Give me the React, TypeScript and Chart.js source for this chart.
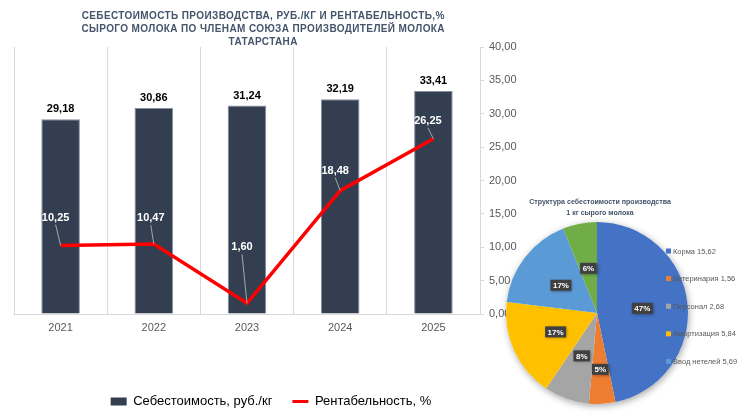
import React, { useEffect, useRef } from 'react';
import { Chart, registerables } from 'chart.js';

Chart.register(...registerables);

// Себестоимость и рентабельность сырого молока по годам
const years = ['2021', '2022', '2023', '2024', '2025'];
const costPerKg = [29.18, 30.86, 31.24, 32.19, 33.41];
const profitability = [10.25, 10.47, 1.6, 18.48, 26.25];

// Структура себестоимости 1 кг молока (2025)
const costItems = ['Корма', 'Ветеринария', 'Персонал', 'Амортизация', 'Ввод нетелей', 'Прочие'];
const costItemValues = [15.62, 1.56, 2.68, 5.84, 5.69, 2.02];
const costItemColors = ['#4472c4', '#ed7d31', '#a5a5a5', '#ffc000', '#5b9bd5', '#70ad47'];

const titleLines = [
  'СЕБЕСТОИМОСТЬ ПРОИЗВОДСТВА, РУБ./КГ И РЕНТАБЕЛЬНОСТЬ,%',
  'СЫРОГО МОЛОКА ПО ЧЛЕНАМ СОЮЗА ПРОИЗВОДИТЕЛЕЙ МОЛОКА',
  'ТАТАРСТАНА',
];
const pieTitleLines = ['Структура себестоимости производства', '1 кг сырого молока'];

const FONT = '"Liberation Sans", Arial, sans-serif';
const fmt = (v: number) => v.toFixed(2).replace('.', ',');

// where each profitability label sits relative to its point (dragged labels with leader lines)
const lineLabelOffsets: [number, number][] = [
  [-5, -28],
  [-3, -26],
  [-5, -56],
  [-5, -20],
  [-5.5, -18],
];

const mainTitle = {
  id: 'mainTitle',
  afterDraw(chart: any) {
    const ctx = chart.ctx as CanvasRenderingContext2D & { letterSpacing?: string };
    ctx.save();
    ctx.font = `bold 10px ${FONT}`;
    ctx.fillStyle = '#44546a';
    ctx.textAlign = 'center';
    ctx.textBaseline = 'middle';
    ctx.letterSpacing = '0px';
    const base = ctx.measureText(titleLines[0]).width;
    const spacing = Math.max(0, (363 - base) / titleLines[0].length);
    ctx.letterSpacing = `${spacing}px`;
    titleLines.forEach((line, i) => {
      ctx.fillText(line, 263 + spacing / 2, 16 + i * 13.3);
    });
    ctx.restore();
  },
};

const mainLabels = {
  id: 'mainLabels',
  afterDatasetsDraw(chart: any) {
    const ctx = chart.ctx as CanvasRenderingContext2D;
    const barMeta = chart.getDatasetMeta(0);
    const lineMeta = chart.getDatasetMeta(1);
    ctx.save();
    ctx.textAlign = 'center';
    ctx.textBaseline = 'middle';
    ctx.font = `bold 11px ${FONT}`;
    ctx.fillStyle = '#000000';
    barMeta.data.forEach((bar: any, i: number) => {
      ctx.fillText(fmt(costPerKg[i]), bar.x, bar.y - 10);
    });
    lineMeta.data.forEach((pt: any, i: number) => {
      const [dx, dy] = lineLabelOffsets[i];
      const lx = pt.x + dx;
      const ly = pt.y + dy;
      ctx.strokeStyle = '#a6a6a6';
      ctx.lineWidth = 1;
      ctx.beginPath();
      ctx.moveTo(lx, ly + 7);
      ctx.lineTo(pt.x, pt.y);
      ctx.stroke();
      ctx.fillStyle = '#ffffff';
      ctx.fillText(fmt(profitability[i]), lx, ly);
    });
    ctx.restore();
  },
};

const pieShadow = {
  id: 'pieShadow',
  beforeDatasetsDraw(chart: any) {
    const arc = chart.getDatasetMeta(0).data[0];
    if (!arc) return;
    const ctx = chart.ctx as CanvasRenderingContext2D;
    ctx.save();
    ctx.shadowColor = 'rgba(0,0,0,0.35)';
    ctx.shadowBlur = 7;
    ctx.shadowOffsetX = 1;
    ctx.shadowOffsetY = 2;
    ctx.fillStyle = '#ffffff';
    ctx.beginPath();
    ctx.arc(arc.x, arc.y, arc.outerRadius, 0, Math.PI * 2);
    ctx.fill();
    ctx.restore();
  },
};

const pieDecor = {
  id: 'pieDecor',
  afterDatasetsDraw(chart: any) {
    const ctx = chart.ctx as CanvasRenderingContext2D;
    const meta = chart.getDatasetMeta(0);
    const total = costItemValues.reduce((a, b) => a + b, 0);
    ctx.save();
    ctx.font = `bold 8px ${FONT}`;
    ctx.textAlign = 'center';
    ctx.textBaseline = 'middle';
    meta.data.forEach((arc: any, i: number) => {
      const share = costItemValues[i] / total;
      const mid = (arc.startAngle + arc.endAngle) / 2;
      const r = arc.outerRadius * (share < 0.055 ? 0.62 : 0.5);
      const x = arc.x + Math.cos(mid) * r;
      const y = arc.y + Math.sin(mid) * r;
      const text = `${Math.round(share * 100)}%`;
      const w = ctx.measureText(text).width + 5;
      const h = 11;
      ctx.save();
      ctx.shadowColor = 'rgba(0,0,0,0.4)';
      ctx.shadowBlur = 3;
      ctx.shadowOffsetX = 1;
      ctx.shadowOffsetY = 1;
      ctx.fillStyle = '#404040';
      ctx.fillRect(x - w / 2, y - h / 2, w, h);
      ctx.restore();
      ctx.fillStyle = '#ffffff';
      ctx.fillText(text, x, y + 0.5);
    });
    ctx.restore();
  },
  afterDraw(chart: any) {
    const ctx = chart.ctx as CanvasRenderingContext2D;
    ctx.save();
    ctx.textAlign = 'center';
    ctx.textBaseline = 'middle';
    ctx.font = `bold 8px ${FONT}`;
    const tw = ctx.measureText(pieTitleLines[0]).width;
    const size = (8 * 142) / tw;
    ctx.font = `bold ${size}px ${FONT}`;
    ctx.fillStyle = '#44546a';
    pieTitleLines.forEach((line, i) => ctx.fillText(line, 110, 12 + i * 11.5));

    // legend lists the five main cost items, drawn over the pie
    ctx.textAlign = 'left';
    ctx.font = `7.5px ${FONT}`;
    for (let i = 0; i < 5; i++) {
      const yc = 61 + i * 27.6;
      ctx.fillStyle = costItemColors[i];
      ctx.fillRect(176, yc - 2.5, 5, 5);
      ctx.fillStyle = '#595959';
      ctx.fillText(`${costItems[i]} ${fmt(costItemValues[i])}`, 183, yc + 0.5);
    }
    ctx.restore();
  },
};

export default function App() {
  const mainRef = useRef<HTMLCanvasElement>(null);
  const pieRef = useRef<HTMLCanvasElement>(null);

  useEffect(() => {
    if (!mainRef.current || !pieRef.current) return;

    const main = new Chart(mainRef.current, {
      type: 'bar',
      data: {
        labels: years,
        datasets: [
          {
            type: 'bar',
            label: 'Себестоимость, руб./кг',
            data: costPerKg,
            backgroundColor: '#333f50',
            borderColor: '#8490a2',
            borderWidth: 1,
            categoryPercentage: 1,
            barPercentage: 0.414,
            order: 1,
          },
          {
            type: 'line',
            label: 'Рентабельность, %',
            data: profitability,
            borderColor: '#ff0000',
            backgroundColor: '#ff0000',
            borderWidth: 3.5,
            pointRadius: 0,
            tension: 0,
            order: 0,
          },
        ] as any,
      },
      options: {
        responsive: false,
        animation: false,
        layout: { padding: { top: 47, left: 14, right: 0, bottom: -2 } },
        scales: {
          x: {
            grid: { color: '#d9d9d9', offset: true, drawTicks: false },
            border: { color: '#d9d9d9' },
            ticks: { color: '#595959', font: { size: 11, family: FONT }, padding: 7 },
            afterFit: (s: any) => {
              s.height = 61;
            },
          },
          y: {
            position: 'right',
            min: 0,
            max: 40,
            grid: { drawOnChartArea: false, tickLength: 4, color: '#d9d9d9' },
            border: { color: '#d9d9d9' },
            ticks: {
              stepSize: 5,
              color: '#595959',
              font: { size: 11, family: FONT },
              padding: 5,
              callback: (v: any) => fmt(Number(v)),
            },
            afterFit: (s: any) => {
              s.width = 48;
            },
          },
        },
        plugins: {
          tooltip: { enabled: false },
          legend: {
            position: 'bottom',
            labels: {
              usePointStyle: true,
              pointStyleWidth: 16,
              boxHeight: 8,
              padding: 20,
              color: '#000000',
              font: { size: 13, family: FONT },
              sort: (a: any, b: any) => a.datasetIndex - b.datasetIndex,
              generateLabels: (chart: any) =>
                Chart.defaults.plugins.legend.labels.generateLabels(chart).map((item: any) =>
                  item.datasetIndex === 0
                    ? { ...item, pointStyle: 'rect', lineWidth: 0, fillStyle: '#333f50', strokeStyle: '#333f50' }
                    : { ...item, pointStyle: 'line', lineWidth: 3, strokeStyle: '#ff0000', fillStyle: '#ff0000' }
                ),
            },
          },
        },
      } as any,
      plugins: [mainTitle, mainLabels],
    });

    const pie = new Chart(pieRef.current, {
      type: 'pie',
      data: {
        labels: costItems,
        datasets: [{ data: costItemValues, backgroundColor: costItemColors, borderWidth: 0 }],
      },
      options: {
        responsive: false,
        animation: false,
        layout: { padding: { left: 16, top: 32, right: 62, bottom: 12 } },
        plugins: { legend: { display: false }, tooltip: { enabled: false } },
      } as any,
      plugins: [pieShadow, pieDecor],
    });

    return () => {
      main.destroy();
      pie.destroy();
    };
  }, []);

  return (
    <div style={{ position: 'fixed', left: 0, top: 0, width: 750, height: 416, background: '#ffffff' }}>
      <canvas
        ref={mainRef}
        width={528}
        height={416}
        style={{ position: 'absolute', left: 0, top: 0, display: 'block' }}
      />
      <canvas
        ref={pieRef}
        width={260}
        height={226}
        style={{ position: 'absolute', left: 490, top: 190, display: 'block' }}
      />
    </div>
  );
}
